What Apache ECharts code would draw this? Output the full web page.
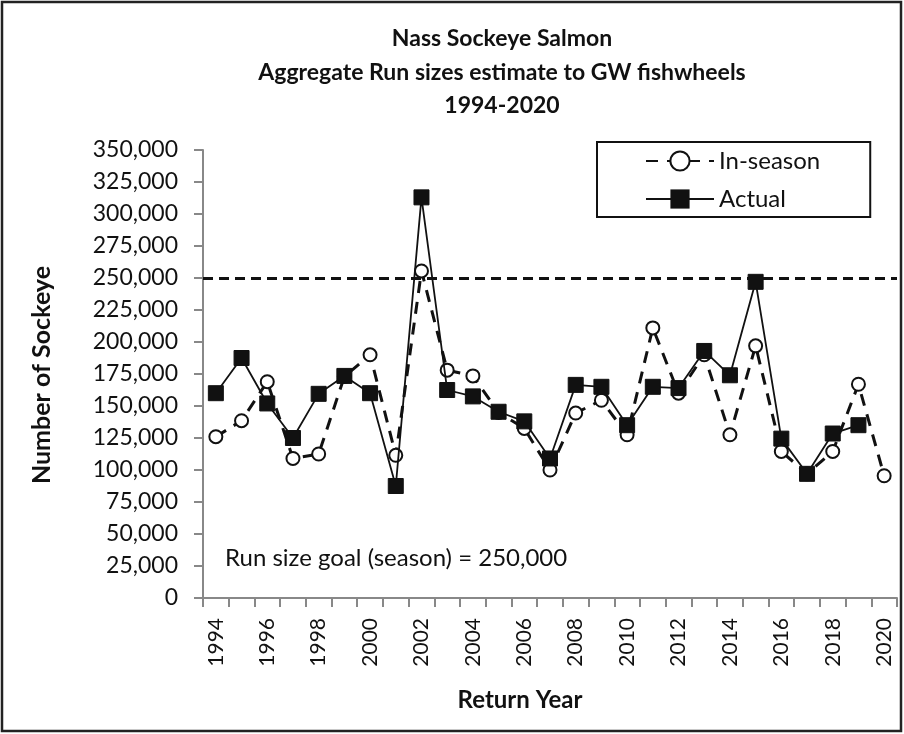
<!DOCTYPE html>
<html><head><meta charset="utf-8">
<script src="https://cdn.jsdelivr.net/npm/echarts@6/dist/echarts.min.js"></script>
<style>html,body{margin:0;padding:0;background:#fff}#c{width:904px;height:734px}</style>
</head><body><div id="c"></div>
<script>
const years = ['1994','1995','1996','1997','1998','1999','2000','2001','2002','2003','2004','2005','2006','2007','2008','2009','2010','2011','2012','2013','2014','2015','2016','2017','2018','2019','2020'];
const inSeason = [126000,138500,169000,109000,112500,173000,190000,111500,255500,178000,173500,145000,132500,100000,144500,154500,127500,211000,160000,190000,127500,197000,114500,97000,114500,167000,95500];
const actual = [160000,187500,152000,125000,159500,173500,160000,87500,313000,162500,157500,145500,138000,109000,166500,165000,135000,165000,164000,193000,174000,247000,124500,97000,128500,135000,null];
const goal = 250000;
const yTicks = {min:0, max:350000, interval:25000};
const titleLines = ['Nass Sockeye Salmon','Aggregate Run sizes estimate to GW fishwheels','1994-2020'];
const goalText = 'Run size goal (season) = 250,000';
const xName = 'Return Year';
const yName = 'Number of Sockeye';

const F = 'Lato, "Open Sans", sans-serif';
const chart = echarts.init(document.getElementById('c'));
chart.setOption({
  animation:false,
  backgroundColor:'#fff',
  title:{text:titleLines.join('\n'), left:497, textAlign:'center', top:17,
    textStyle:{fontFamily:F, fontWeight:'bold', fontSize:23, color:'#111', lineHeight:33.5}},
  graphic:[
    {type:'rect', shape:{x:2,y:2,width:899,height:729}, style:{fill:'none', stroke:'#222', lineWidth:2.5}, silent:true},
    {type:'text', x:225, y:558, style:{text:goalText, font:'24px '+F, fill:'#111', textVerticalAlign:'middle'}},
    {type:'text', x:520, y:700, style:{text:xName, font:'bold 24px '+F, fill:'#111', textAlign:'center', textVerticalAlign:'middle'}},
    {type:'text', x:42, y:375, rotation:Math.PI/2, style:{text:yName, font:'bold 25px '+F, fill:'#111', textAlign:'center', textVerticalAlign:'middle'}}
  ],
  legend:{left:597, top:142, orient:'vertical', itemWidth:68, itemHeight:24, itemGap:14,
    padding:[7,50,6,48], borderColor:'#111', borderWidth:2, backgroundColor:'#fff',
    textStyle:{fontFamily:F, fontSize:24, color:'#111'},
    data:['In-season','Actual']},
  grid:{left:203, right:7, top:150, bottom:136, containLabel:false},
  xAxis:{type:'category', data:years, boundaryGap:true,
    axisLine:{lineStyle:{color:'#888', width:2}},
    axisTick:{show:true, interval:0, length:9, lineStyle:{color:'#888', width:2}},
    axisLabel:{interval:1, rotate:90, fontFamily:F, fontSize:21, color:'#111', margin:20}},
  yAxis:{type:'value', min:yTicks.min, max:yTicks.max, interval:yTicks.interval,
    splitLine:{show:false},
    axisLine:{show:true, lineStyle:{color:'#888', width:2}},
    axisTick:{show:true, length:9, lineStyle:{color:'#888', width:2}},
    axisLabel:{fontFamily:F, fontSize:23, color:'#111', margin:25,
      formatter:v=>v.toLocaleString('en-US')}},
  series:[
    {name:'In-season', type:'line', data:inSeason, symbol:'circle', symbolSize:13, z:3,
      lineStyle:{color:'#111', width:3, type:[12,9]},
      itemStyle:{color:'#fff', borderColor:'#111', borderWidth:2},
      markLine:{silent:true, symbol:'none', label:{show:false},
        lineStyle:{color:'#111', width:3, type:[10,6]},
        data:[{yAxis:goal}]}},
    {name:'Actual', type:'line', data:actual, symbol:'rect', symbolSize:15, z:4,
      lineStyle:{color:'#111', width:1.8},
      itemStyle:{color:'#111', borderColor:'#111'}}
  ]
});
</script></body></html>
